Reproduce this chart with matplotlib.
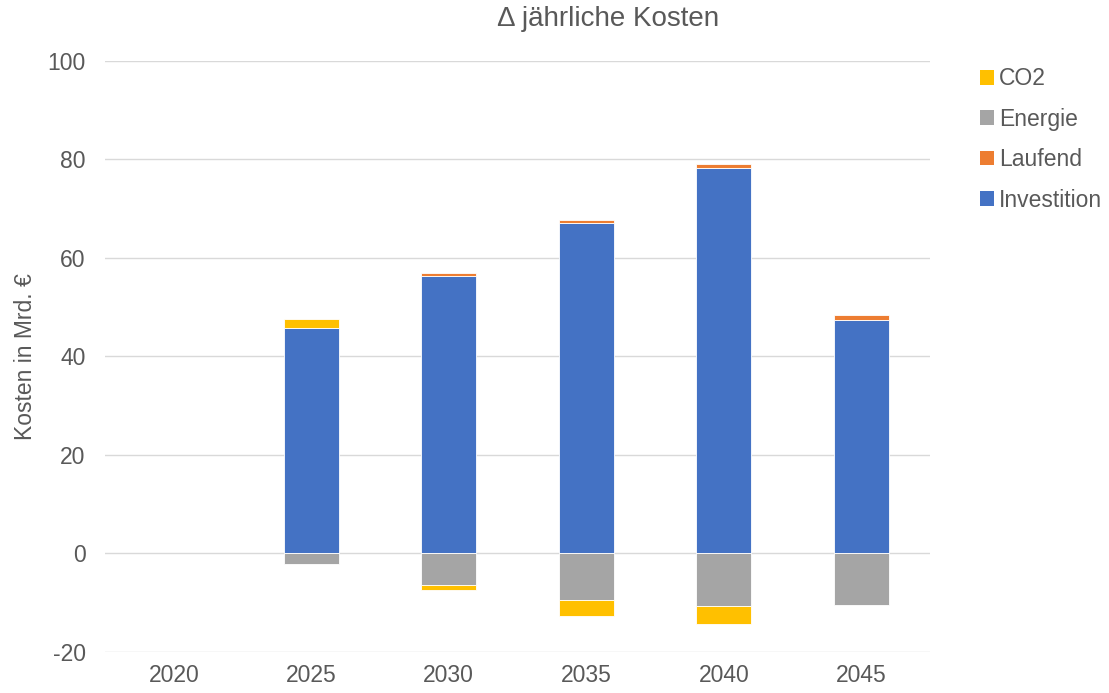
import numpy as np
import matplotlib.pyplot as plt

plt.rcParams["font.family"] = ["Liberation Sans", "DejaVu Sans"]
plt.rcParams["axes.unicode_minus"] = False

years = ["2020", "2025", "2030", "2035", "2040", "2045"]
investition = [0, 45.8, 56.4, 67.0, 78.2, 47.4]
laufend = [0, 0, 0.5, 0.7, 0.9, 1.0]
energie = [0, -2.2, -6.5, -9.35, -10.6, -10.4]
co2 = [0, 1.8, -0.9, -3.35, -3.7, 0]

series = [
    ("Investition", investition, "#4472c4"),
    ("Laufend", laufend, "#ed7d31"),
    ("Energie", energie, "#a5a5a5"),
    ("CO2", co2, "#ffc000"),
]

grey = "#595959"
fs = 16.5

fig = plt.figure(figsize=(11.09, 6.93), dpi=100)
ax = fig.add_axes([0.0947, 0.0592, 0.744, 0.853])

x = np.arange(len(years))
pos_base = np.zeros(len(years))
neg_base = np.zeros(len(years))
handles = {}
for name, vals, color in series:
    vals = np.array(vals, dtype=float)
    bottom = np.where(vals >= 0, pos_base, neg_base)
    lw = np.where(vals != 0, 0.6, 0.0)
    b = ax.bar(x, vals, 0.4, bottom=bottom, color=color, edgecolor="white",
               linewidth=lw, zorder=3, label=name)
    handles[name] = b
    pos_base += np.where(vals > 0, vals, 0)
    neg_base += np.where(vals < 0, vals, 0)

ax.set_xlim(-0.5, len(years) - 0.5)
ax.set_ylim(-20, 100)
ax.set_yticks(np.arange(-20, 101, 20))
ax.set_xticks(x)
ax.set_xticklabels(years)
ax.grid(axis="y", color="#d9d9d9", linewidth=1, zorder=0)
for s in ax.spines.values():
    s.set_visible(False)
ax.tick_params(axis="both", length=0, labelsize=fs, labelcolor=grey)
ax.tick_params(axis="y", pad=14)
ax.tick_params(axis="x", pad=9)

ax.set_ylabel("Kosten in Mrd. €", fontsize=fs, color=grey)
ax.yaxis.set_label_coords(-0.082, 0.5)
fig.text(608 / 1109, 1 - 19 / 693, "Δ jährliche Kosten", fontsize=20,
         color=grey, ha="center", va="center")

order = ["CO2", "Energie", "Laufend", "Investition"]
leg = fig.legend([handles[n] for n in order], order, loc="upper left",
                 bbox_to_anchor=(0.8753, 0.916), frameon=False, fontsize=fs,
                 handlelength=0.6, handleheight=0.6, handletextpad=0.25,
                 labelspacing=0.76, borderaxespad=0)
for t in leg.get_texts():
    t.set_color(grey)

fig.savefig("out.png", dpi=100)
